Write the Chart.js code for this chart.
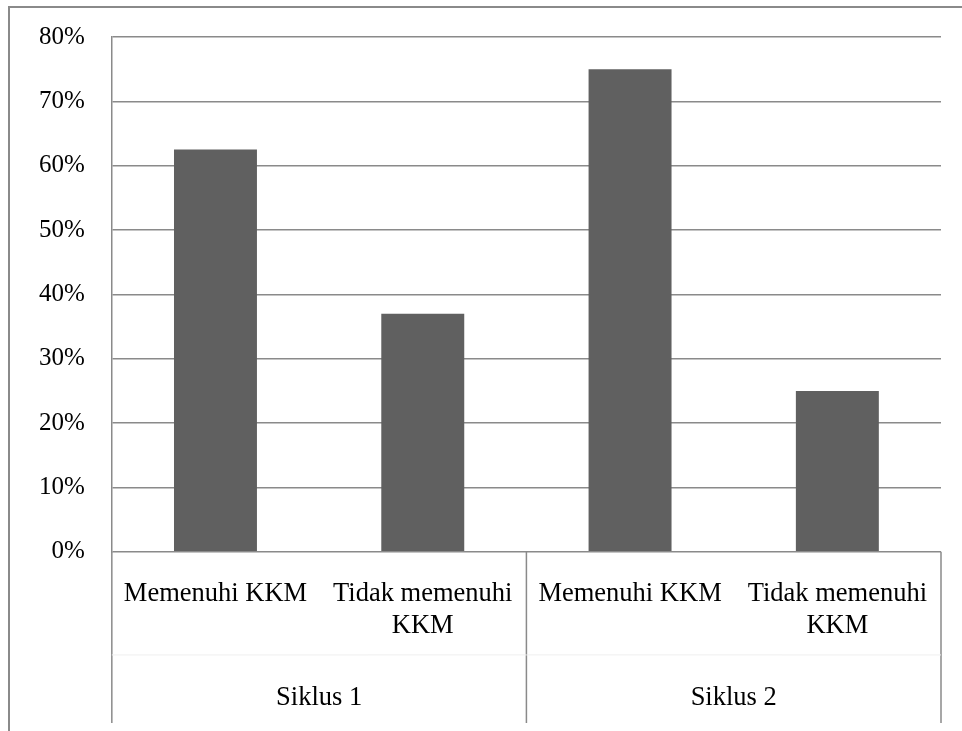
<!DOCTYPE html>
<html>
<head>
<meta charset="utf-8">
<script src="https://cdn.jsdelivr.net/npm/chart.js@4/dist/chart.umd.min.js"></script>
<style>
  html, body { margin: 0; padding: 0; background: #fff; }
  #frame { position: absolute; left: 8px; top: 6px; width: 960px; height: 730px;
           border-left: 2px solid #8a8a8a; border-top: 2px solid #8a8a8a; }
  #wrap { position: absolute; left: 0; top: 0; width: 962px; height: 731px; }
</style>
</head>
<body>
<div id="frame"></div>
<div id="wrap"><canvas id="c"></canvas></div>
<script>
// Data
const categories = [['Memenuhi KKM'], ['Tidak memenuhi', 'KKM'], ['Memenuhi KKM'], ['Tidak memenuhi', 'KKM']];
const groups = ['Siklus 1', 'Siklus 2'];
const values = [62.5, 37, 75, 25];
const yTicks = [0, 10, 20, 30, 40, 50, 60, 70, 80];

const lineColor = '#8a8a8a';
const family = '"Liberation Serif", "Times New Roman", serif';
const yFont = { family, size: 25 };
const xFont = { family, size: 26.5, lineHeight: 1.21 };

// separator lines of the two-level category axis
const dividers = {
  id: 'dividers',
  afterDraw(chart) {
    const x = chart.scales.x, x2 = chart.scales.x2;
    const ctx = chart.ctx;
    const top = chart.chartArea.bottom;
    const bottom = x2.bottom - 5;
    const per = categories.length / groups.length;
    const w = (x.right - x.left) / categories.length;
    ctx.save();
    ctx.strokeStyle = lineColor;
    ctx.lineWidth = 1.5;
    for (let i = 0; i <= groups.length; i++) {
      const px = x.left + i * per * w;
      ctx.beginPath();
      ctx.moveTo(px, top);
      ctx.lineTo(px, bottom);
      ctx.stroke();
    }
    ctx.strokeStyle = '#efefef';
    ctx.lineWidth = 1;
    ctx.beginPath();
    ctx.moveTo(x.left, x.bottom - 13);
    ctx.lineTo(x.right, x.bottom - 13);
    ctx.stroke();
    ctx.restore();
  }
};

new Chart(document.getElementById('c').getContext('2d'), {
  type: 'bar',
  data: {
    labels: categories,
    datasets: [{
      data: values,
      backgroundColor: '#606060',
      borderWidth: 0,
      barPercentage: 0.667,
      categoryPercentage: 0.6
    }]
  },
  options: {
    responsive: true,
    maintainAspectRatio: false,
    animation: false,
    layout: { padding: { left: 34, top: 37, right: 21, bottom: 3 } },
    plugins: { legend: { display: false }, tooltip: { enabled: false } },
    scales: {
      y: {
        min: 0, max: 80,
        afterBuildTicks: (s) => { s.ticks = yTicks.map(v => ({ value: v })); },
        ticks: { font: yFont, color: '#000', padding: 5, callback: (v) => v + '%' },
        grid: { color: lineColor, lineWidth: 1.5, drawTicks: true, tickLength: 22, tickColor: 'rgba(0,0,0,0)' },
        border: { display: true, color: lineColor, width: 1.5 }
      },
      x: {
        ticks: { font: xFont, color: '#000', padding: 26, maxRotation: 0, autoSkip: false },
        grid: { display: false, drawTicks: false },
        border: { display: false }
      },
      x2: {
        type: 'category',
        labels: groups,
        position: 'bottom',
        offset: true,
        ticks: { font: xFont, color: '#000', padding: 14, maxRotation: 0, autoSkip: false },
        grid: { display: false, drawTicks: false },
        border: { display: false }
      }
    }
  },
  plugins: [dividers]
});
</script>
</body>
</html>
